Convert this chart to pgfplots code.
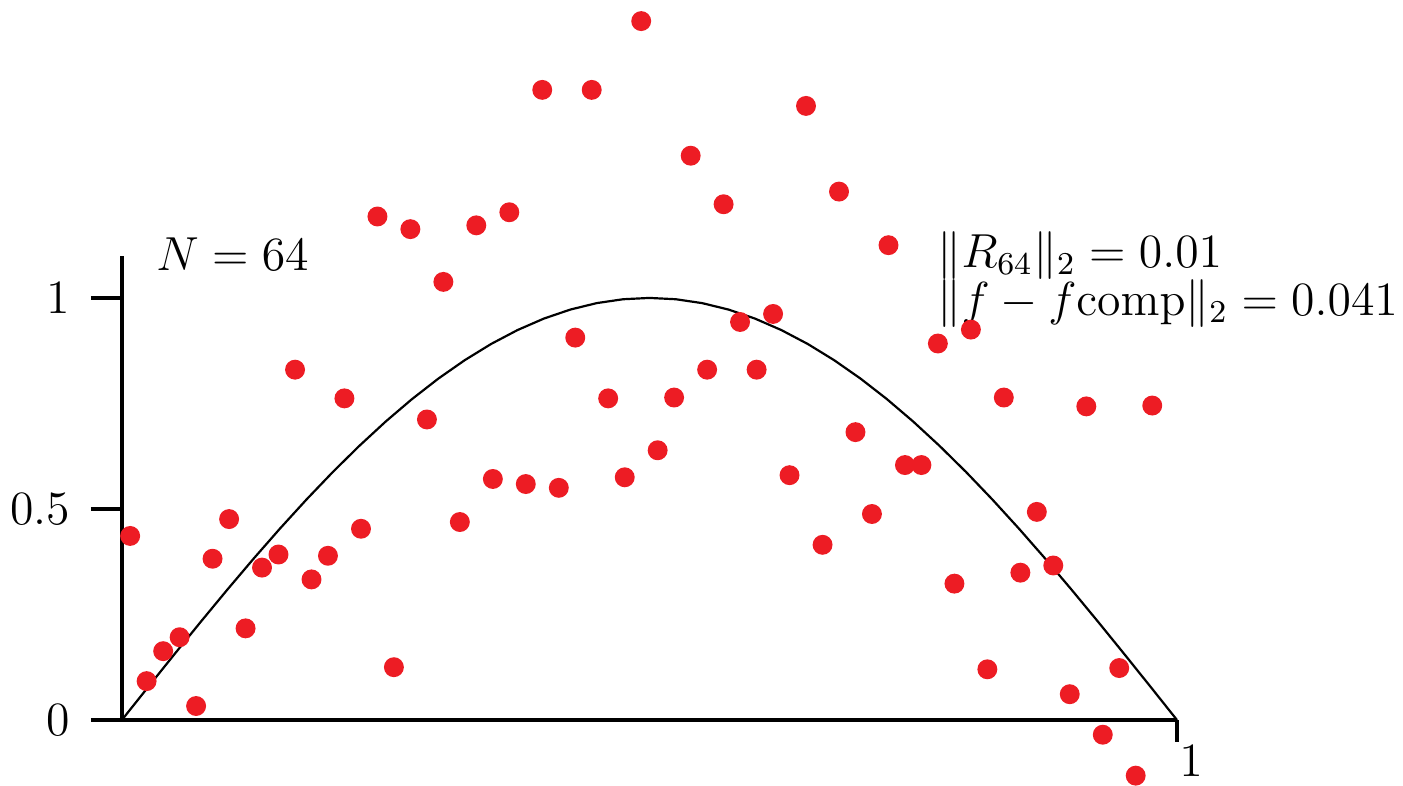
\documentclass[border=0pt]{standalone}
\usepackage{pgfplots}
\pgfplotsset{compat=1.18}
\usepackage{pgfplotstable}
\definecolor{dotred}{RGB}{237,28,36}
\pgfplotstableread{
x y
0.0078 0.436
0.0234 0.092
0.0391 0.163
0.0547 0.196
0.0703 0.033
0.0859 0.382
0.1016 0.476
0.1172 0.217
0.1328 0.361
0.1484 0.392
0.1641 0.830
0.1797 0.333
0.1953 0.389
0.2109 0.762
0.2266 0.453
0.2422 1.193
0.2578 0.125
0.2734 1.163
0.2891 0.712
0.3047 1.038
0.3203 0.469
0.3359 1.172
0.3516 0.571
0.3672 1.203
0.3828 0.559
0.3984 1.493
0.4141 0.550
0.4297 0.906
0.4453 1.493
0.4609 0.762
0.4766 0.575
0.4922 1.656
0.5078 0.639
0.5234 0.764
0.5391 1.337
0.5547 0.830
0.5703 1.222
0.5859 0.943
0.6016 0.830
0.6172 0.962
0.6328 0.580
0.6484 1.455
0.6641 0.415
0.6797 1.252
0.6953 0.682
0.7109 0.488
0.7266 1.125
0.7422 0.604
0.7578 0.604
0.7734 0.892
0.7891 0.323
0.8047 0.925
0.8203 0.120
0.8359 0.764
0.8516 0.349
0.8672 0.493
0.8828 0.366
0.8984 0.061
0.9141 0.743
0.9297 -0.035
0.9453 0.123
0.9609 -0.132
0.9766 0.745
}\dots
\pgfplotstableread{
x y
0 0
0.025 0.0785
0.05 0.1564
0.075 0.2334
0.1 0.3090
0.125 0.3827
0.15 0.4540
0.175 0.5225
0.2 0.5878
0.225 0.6494
0.25 0.7071
0.275 0.7604
0.3 0.8090
0.325 0.8526
0.35 0.8910
0.375 0.9239
0.4 0.9511
0.425 0.9724
0.45 0.9877
0.475 0.9969
0.5 1.0000
0.525 0.9969
0.55 0.9877
0.575 0.9724
0.6 0.9511
0.625 0.9239
0.65 0.8910
0.675 0.8526
0.7 0.8090
0.725 0.7604
0.75 0.7071
0.775 0.6494
0.8 0.5878
0.825 0.5225
0.85 0.4540
0.875 0.3827
0.9 0.3090
0.925 0.2334
0.95 0.1564
0.975 0.0785
1 0
}\curve
\begin{document}
\begin{tikzpicture}
\begin{axis}[
  x=265pt, y=106pt,
  xmin=0, xmax=1, ymin=0, ymax=1.1,
  clip=false,
  axis x line=bottom, axis y line=left,
  axis line style={-, line width=0.8pt},
  tick align=outside,
  major tick length=7.8pt,
  xtick={1}, ytick={0,0.5,1},
  yticklabels={0,0.5,1},
  tick style={line width=0.8pt, black},
  xtick style={draw=none},
  every tick label/.append style={font=\large, inner sep=0pt},
  xticklabel style={anchor=north west, yshift=1.5pt, xshift=0.4pt},
  yticklabel style={xshift=-5pt},
]
\addplot[black, line width=0.55pt, no marks] table {\curve};
\addplot[only marks, mark=*, mark size=2.3pt, dotred, mark options={draw=none, fill=dotred}] table {\dots};
\draw[line width=0.8pt, black] (axis cs:1,0) -- ([yshift=-5.5pt]axis cs:1,0);
\node[anchor=base west, inner sep=0pt, font=\large] at (axis cs:0.032,1.064) {$N = 64$};
\node[anchor=base west, inner sep=0pt, font=\large] at (axis cs:0.7726,1.073) {$\|R_{64}\|_2 = 0.01$};
\node[anchor=base west, inner sep=0pt, font=\large] at (axis cs:0.7726,0.958) {$\|f - f\mathrm{comp}\|_2 = 0.041$};
\end{axis}
\path (current bounding box.north west) ++(-2.6pt,3pt);
\path (current bounding box.south east) ++(1.3pt,-0.25pt);
\end{tikzpicture}
\end{document}
